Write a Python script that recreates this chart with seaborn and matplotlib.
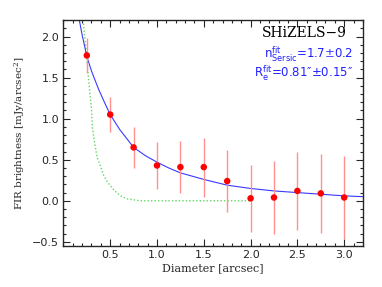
import numpy as np
import pandas as pd
import matplotlib
matplotlib.use("Agg")
import matplotlib.pyplot as plt
from matplotlib.ticker import MultipleLocator
import seaborn as sns

# measured radial profile
diam = [0.25, 0.5, 0.75, 1.0, 1.25, 1.5, 1.75, 2.0, 2.25, 2.5, 2.75, 3.0]
flux = [1.77, 1.05, 0.65, 0.43, 0.41, 0.41, 0.24, 0.03, 0.04, 0.12, 0.09, 0.04]
flux_err = [0.21, 0.21, 0.25, 0.29, 0.32, 0.36, 0.38, 0.41, 0.44, 0.47, 0.48, 0.50]

# Sersic fit curve
fit_x = [0.17, 0.20, 0.25, 0.30, 0.375, 0.45, 0.5, 0.6, 0.75, 0.875, 1.0, 1.125,
         1.25, 1.5, 1.75, 2.0, 2.25, 2.5, 2.75, 3.0, 3.2]
fit_y = [2.20, 2.02, 1.76, 1.58, 1.36, 1.17, 1.05, 0.87, 0.65, 0.55, 0.47, 0.40,
         0.34, 0.26, 0.19, 0.15, 0.12, 0.10, 0.08, 0.06, 0.05]

# PSF profile
psf_x = [0.21, 0.24, 0.27, 0.30, 0.31, 0.33, 0.36, 0.40, 0.43, 0.47, 0.54,
         0.61, 0.68, 0.82, 1.0, 1.5, 2.0]
psf_y = [2.20, 1.86, 1.46, 1.11, 0.89, 0.73, 0.53, 0.41, 0.31, 0.23, 0.13,
         0.06, 0.024, 0.0, 0.0, 0.0, 0.0]

sns.set_style("ticks")
plt.rcParams['font.family'] = ['DejaVu Serif', 'DejaVu Sans']
plt.rcParams['mathtext.fontset'] = 'dejavuserif'

fig = plt.figure(figsize=(3.82, 2.87), dpi=100)
ax = fig.add_axes([0.166, 0.143, 0.784, 0.787])

sns.lineplot(x=psf_x, y=psf_y, ax=ax, color='#60d860', lw=1.0,
             linestyle=(0, (1, 1.5)), sort=False, estimator=None)
sns.lineplot(x=fit_x, y=fit_y, ax=ax, color='#3a3aff', lw=0.8,
             sort=False, estimator=None)
ax.errorbar(diam, flux, yerr=flux_err, fmt='none', ecolor='#ff9090',
            elinewidth=1.0, capsize=0)
sns.scatterplot(x=diam, y=flux, ax=ax, color='red', s=22, edgecolor='none',
                zorder=5)

ax.set_xlim(0, 3.2)
ax.set_ylim(-0.55, 2.2)
ax.xaxis.set_major_locator(MultipleLocator(0.5))
ax.xaxis.set_minor_locator(MultipleLocator(0.1))
ax.yaxis.set_major_locator(MultipleLocator(0.5))
ax.yaxis.set_minor_locator(MultipleLocator(0.1))
ax.set_xticks([0.5, 1.0, 1.5, 2.0, 2.5, 3.0])
ax.tick_params(which='both', direction='in', top=True, right=True,
               labelsize=8, width=0.8, pad=3)
ax.tick_params(which='major', length=5)
ax.tick_params(which='minor', length=2.5)
for lab in ax.get_xticklabels() + ax.get_yticklabels():
    lab.set_family('DejaVu Sans')
for s in ax.spines.values():
    s.set_linewidth(1.0)

ax.set_xlabel('Diameter [arcsec]', fontsize=8, labelpad=2)
ax.set_ylabel('FIR brightness [mJy/arcsec$^2$]', fontsize=7.5, labelpad=4)

ax.text(0.946, 0.976, 'SHiZELS\u22129', transform=ax.transAxes, ha='right',
        va='top', fontsize=10, color='black')
ax.text(0.967, 0.849, r'$\mathregular{n^{fit}_{Sersic}}$=1.7$\pm$0.2',
        transform=ax.transAxes, ha='right', va='center', fontsize=8.5,
        color='#2020ff', family='DejaVu Sans')
ax.text(0.967, 0.763, r'$\mathregular{R^{fit}_{e}}$' + '=0.81\u2033\u00b10.15\u2033',
        transform=ax.transAxes, ha='right', va='center', fontsize=8.5,
        color='#2020ff', family='DejaVu Sans')

fig.savefig('out.png', dpi=100)
